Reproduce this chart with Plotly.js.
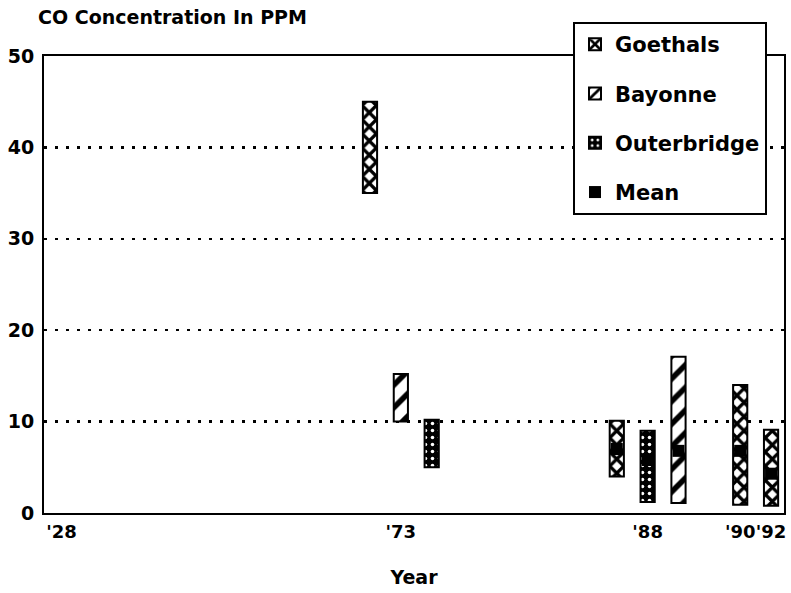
<!DOCTYPE html>
<html>
<head>
<meta charset="utf-8">
<script src="https://cdn.plot.ly/plotly-3.0.1.min.js"></script>
<style>html,body{margin:0;padding:0;background:#fff}#chart{width:791px;height:593px}</style>
</head>
<body>
<div id="chart"></div>
<script>
// ---- data ----
const tickLabels = ["'28", "'73", "'88", "'90", "'92"];
const years  = ["'73", "'73", "'73", "'88", "'88", "'88", "'90", "'92"];
const sites  = ["Goethals", "Bayonne", "Outerbridge", "Goethals", "Outerbridge", "Bayonne", "Goethals", "Goethals"];
const lows   = [35, 10, 5, 4, 1.2, 1.1, 0.9, 0.8];
const highs  = [45, 15.2, 10.2, 10.1, 9, 17.1, 14, 9.1];
const means  = [null, null, null, 7.0, 5.8, 6.8, 6.8, 4.3];
const siteOrder = ["Goethals", "Bayonne", "Outerbridge"];

// ---- layout helpers (positions, not data) ----
const tickSlot = {"'28": 0, "'73": 11, "'88": 19, "'90": 22, "'92": 23};
function slotOf(i) {
  const grp = [];
  years.forEach((y, j) => { if (y === years[i]) grp.push(j); });
  const k = grp.indexOf(i);
  return tickSlot[years[i]] + (k - (grp.length - 1) / 2);
}
const FONT = "DejaVu Sans";
const patterns = {
  "Goethals":    {shape: "x", fgcolor: "#000", bgcolor: "#fff", size: 10, solidity: 0.55},
  "Bayonne":     {shape: "/", fgcolor: "#000", bgcolor: "#fff", size: 16, solidity: 0.35},
  "Outerbridge": {shape: ".", fgcolor: "#fff", bgcolor: "#000", size: 7, solidity: 0.2}
};

const traces = siteOrder.map((s, gi) => {
  const idx = sites.map((v, i) => v === s ? i : -1).filter(i => i >= 0);
  return {
    type: "bar", name: s, legendgroup: "g" + gi,
    x: idx.map(slotOf),
    base: idx.map(i => lows[i]),
    y: idx.map(i => highs[i] - lows[i]),
    width: 0.46,
    marker: {color: "#fff", line: {color: "#000", width: 2}, pattern: patterns[s]},
    hoverinfo: "skip"
  };
});
const mIdx = means.map((m, i) => m == null ? -1 : i).filter(i => i >= 0);
traces.push({
  type: "scatter", mode: "markers", name: "Mean", legendgroup: "g3",
  x: mIdx.map(slotOf), y: mIdx.map(i => means[i]),
  marker: {symbol: "square", color: "#000", size: 12},
  hoverinfo: "skip"
});

const layout = {
  width: 791, height: 593,
  margin: {l: 44, r: 7, t: 56, b: 80},
  paper_bgcolor: "#fff", plot_bgcolor: "#fff",
  font: {family: FONT, color: "#000", size: 18, weight: "bold"},
  title: {
    text: "CO Concentration In PPM",
    font: {family: FONT, size: 19, weight: "bold", color: "#000"},
    xref: "container", x: 38 / 791, xanchor: "left",
    yref: "container", y: 1 - 17 / 593, yanchor: "middle"
  },
  barmode: "overlay",
  showlegend: true,
  legend: {
    x: (573 - 44) / 740, xanchor: "left",
    y: (513 - 22) / 457, yanchor: "top",
    bgcolor: "#fff", bordercolor: "#000", borderwidth: 2,
    font: {family: FONT, size: 21, weight: "bold", color: "#000"},
    tracegroupgap: 19, traceorder: "grouped"
  },
  xaxis: {
    range: [-0.567, 23.42], fixedrange: true,
    tickmode: "array",
    tickvals: tickLabels.map(t => tickSlot[t]),
    ticktext: tickLabels,
    tickangle: 0,
    ticks: "", showgrid: false, zeroline: false,
    showline: true, mirror: true, linecolor: "#000", linewidth: 2,
    tickfont: {family: FONT, size: 18, weight: "bold", color: "#000"},
    ticklabelstandoff: 1,
    title: {text: "Year", standoff: 30, font: {family: FONT, size: 19, weight: "bold", color: "#000"}}
  },
  yaxis: {
    range: [0, 50], fixedrange: true,
    tickvals: [0, 10, 20, 30, 40, 50],
    ticks: "", zeroline: false,
    showgrid: true, gridcolor: "#000", gridwidth: 2.5, griddash: "3px,8px",
    showline: true, mirror: true, linecolor: "#000", linewidth: 2,
    tickfont: {family: FONT, size: 19, weight: "bold", color: "#000"},
    ticklabelstandoff: 4
  }
};

Plotly.newPlot("chart", traces, layout, {displayModeBar: false, staticPlot: true});
</script>
</body>
</html>
